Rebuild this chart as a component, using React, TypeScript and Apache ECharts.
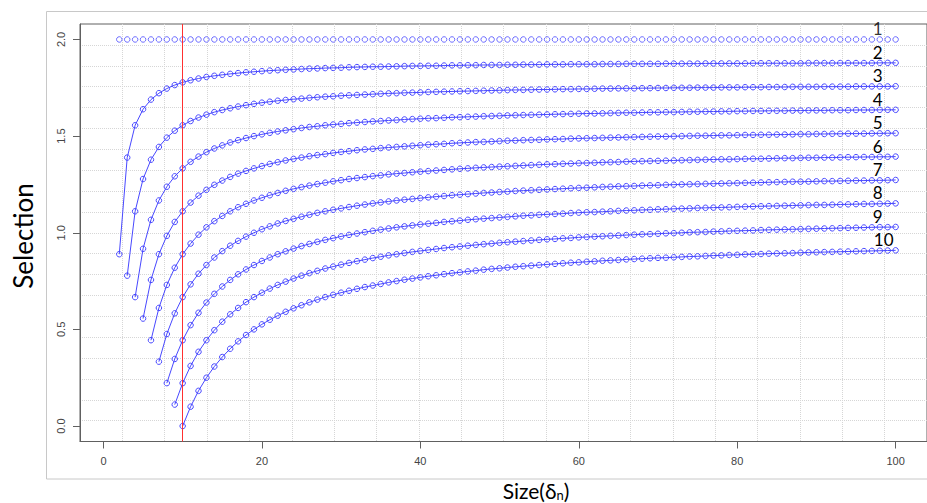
import React, { useEffect, useRef } from "react";
import * as echarts from "echarts";

const sizes = [
  1, 2, 3, 4, 5, 6, 7, 8, 9, 10, 11, 12, 13, 14, 15, 16, 17, 18, 19, 20,
  21, 22, 23, 24, 25, 26, 27, 28, 29, 30, 31, 32, 33, 34, 35, 36, 37, 38, 39, 40,
  41, 42, 43, 44, 45, 46, 47, 48, 49, 50, 51, 52, 53, 54, 55, 56, 57, 58, 59, 60,
  61, 62, 63, 64, 65, 66, 67, 68, 69, 70, 71, 72, 73, 74, 75, 76, 77, 78, 79, 80,
  81, 82, 83, 84, 85, 86, 87, 88, 89, 90, 91, 92, 93, 94, 95, 96, 97, 98, 99, 100,
];

// series values, each starting at the size given in seriesStart
const sel1 = [
  2, 2, 2, 2, 2, 2, 2, 2, 2, 2, 2, 2, 2, 2, 2, 2, 2, 2, 2, 2,
  2, 2, 2, 2, 2, 2, 2, 2, 2, 2, 2, 2, 2, 2, 2, 2, 2, 2, 2, 2,
  2, 2, 2, 2, 2, 2, 2, 2, 2, 2, 2, 2, 2, 2, 2, 2, 2, 2, 2, 2,
  2, 2, 2, 2, 2, 2, 2, 2, 2, 2, 2, 2, 2, 2, 2, 2, 2, 2, 2, 2,
  2, 2, 2, 2, 2, 2, 2, 2, 2, 2, 2, 2, 2, 2, 2, 2, 2, 2, 2,
];
const sel2 = [
  0.889, 1.389, 1.556, 1.639, 1.689, 1.722, 1.746, 1.764, 1.778, 1.789,
  1.798, 1.806, 1.812, 1.817, 1.822, 1.826, 1.830, 1.833, 1.836, 1.839,
  1.841, 1.843, 1.845, 1.847, 1.849, 1.850, 1.852, 1.853, 1.854, 1.856,
  1.857, 1.858, 1.859, 1.859, 1.860, 1.861, 1.862, 1.863, 1.863, 1.864,
  1.864, 1.865, 1.866, 1.866, 1.867, 1.867, 1.868, 1.868, 1.868, 1.869,
  1.869, 1.870, 1.870, 1.870, 1.871, 1.871, 1.871, 1.872, 1.872, 1.872,
  1.872, 1.873, 1.873, 1.873, 1.874, 1.874, 1.874, 1.874, 1.874, 1.875,
  1.875, 1.875, 1.875, 1.875, 1.876, 1.876, 1.876, 1.876, 1.876, 1.876,
  1.877, 1.877, 1.877, 1.877, 1.877, 1.877, 1.877, 1.878, 1.878, 1.878,
  1.878, 1.878, 1.878, 1.878, 1.878, 1.878, 1.879, 1.879, 1.879,
];
const sel3 = [
  0.778, 1.111, 1.278, 1.378, 1.444, 1.492, 1.528, 1.556, 1.578, 1.596,
  1.611, 1.624, 1.635, 1.644, 1.653, 1.660, 1.667, 1.673, 1.678, 1.683,
  1.687, 1.691, 1.694, 1.698, 1.701, 1.704, 1.706, 1.709, 1.711, 1.713,
  1.715, 1.717, 1.719, 1.721, 1.722, 1.724, 1.725, 1.726, 1.728, 1.729,
  1.730, 1.731, 1.732, 1.733, 1.734, 1.735, 1.736, 1.737, 1.738, 1.739,
  1.739, 1.740, 1.741, 1.741, 1.742, 1.743, 1.743, 1.744, 1.744, 1.745,
  1.746, 1.746, 1.747, 1.747, 1.747, 1.748, 1.748, 1.749, 1.749, 1.750,
  1.750, 1.750, 1.751, 1.751, 1.751, 1.752, 1.752, 1.752, 1.753, 1.753,
  1.753, 1.754, 1.754, 1.754, 1.755, 1.755, 1.755, 1.755, 1.756, 1.756,
  1.756, 1.756, 1.757, 1.757, 1.757, 1.757, 1.757, 1.758,
];
const sel4 = [
  0.667, 0.917, 1.067, 1.167, 1.238, 1.292, 1.333, 1.367, 1.394, 1.417,
  1.436, 1.452, 1.467, 1.479, 1.490, 1.500, 1.509, 1.517, 1.524, 1.530,
  1.536, 1.542, 1.547, 1.551, 1.556, 1.560, 1.563, 1.567, 1.570, 1.573,
  1.576, 1.578, 1.581, 1.583, 1.586, 1.588, 1.590, 1.592, 1.593, 1.595,
  1.597, 1.598, 1.600, 1.601, 1.603, 1.604, 1.605, 1.607, 1.608, 1.609,
  1.610, 1.611, 1.612, 1.613, 1.614, 1.615, 1.616, 1.617, 1.617, 1.618,
  1.619, 1.620, 1.621, 1.621, 1.622, 1.623, 1.623, 1.624, 1.624, 1.625,
  1.626, 1.626, 1.627, 1.627, 1.628, 1.628, 1.629, 1.629, 1.630, 1.630,
  1.631, 1.631, 1.631, 1.632, 1.632, 1.633, 1.633, 1.633, 1.634, 1.634,
  1.634, 1.635, 1.635, 1.635, 1.636, 1.636, 1.636,
];
const sel5 = [
  0.556, 0.756, 0.889, 0.984, 1.056, 1.111, 1.156, 1.192, 1.222, 1.248,
  1.270, 1.289, 1.306, 1.320, 1.333, 1.345, 1.356, 1.365, 1.374, 1.382,
  1.389, 1.396, 1.402, 1.407, 1.413, 1.418, 1.422, 1.427, 1.431, 1.434,
  1.438, 1.441, 1.444, 1.447, 1.450, 1.453, 1.456, 1.458, 1.460, 1.463,
  1.465, 1.467, 1.469, 1.470, 1.472, 1.474, 1.476, 1.477, 1.479, 1.480,
  1.481, 1.483, 1.484, 1.485, 1.487, 1.488, 1.489, 1.490, 1.491, 1.492,
  1.493, 1.494, 1.495, 1.496, 1.497, 1.498, 1.498, 1.499, 1.500, 1.501,
  1.502, 1.502, 1.503, 1.504, 1.504, 1.505, 1.506, 1.506, 1.507, 1.507,
  1.508, 1.508, 1.509, 1.510, 1.510, 1.511, 1.511, 1.512, 1.512, 1.513,
  1.513, 1.513, 1.514, 1.514, 1.515, 1.515,
];
const sel6 = [
  0.444, 0.611, 0.730, 0.819, 0.889, 0.944, 0.990, 1.028, 1.060, 1.087,
  1.111, 1.132, 1.150, 1.167, 1.181, 1.194, 1.206, 1.217, 1.227, 1.236,
  1.244, 1.252, 1.259, 1.266, 1.272, 1.278, 1.283, 1.288, 1.293, 1.297,
  1.302, 1.306, 1.309, 1.313, 1.316, 1.319, 1.322, 1.325, 1.328, 1.331,
  1.333, 1.336, 1.338, 1.340, 1.342, 1.344, 1.346, 1.348, 1.350, 1.352,
  1.354, 1.355, 1.357, 1.358, 1.360, 1.361, 1.362, 1.364, 1.365, 1.366,
  1.368, 1.369, 1.370, 1.371, 1.372, 1.373, 1.374, 1.375, 1.376, 1.377,
  1.378, 1.379, 1.380, 1.380, 1.381, 1.382, 1.383, 1.383, 1.384, 1.385,
  1.386, 1.386, 1.387, 1.388, 1.388, 1.389, 1.389, 1.390, 1.391, 1.391,
  1.392, 1.392, 1.393, 1.393, 1.394,
];
const sel7 = [
  0.333, 0.476, 0.583, 0.667, 0.733, 0.788, 0.833, 0.872, 0.905, 0.933,
  0.958, 0.980, 1.000, 1.018, 1.033, 1.048, 1.061, 1.072, 1.083, 1.093,
  1.103, 1.111, 1.119, 1.126, 1.133, 1.140, 1.146, 1.152, 1.157, 1.162,
  1.167, 1.171, 1.175, 1.179, 1.183, 1.187, 1.190, 1.194, 1.197, 1.200,
  1.203, 1.206, 1.208, 1.211, 1.213, 1.216, 1.218, 1.220, 1.222, 1.224,
  1.226, 1.228, 1.230, 1.232, 1.233, 1.235, 1.237, 1.238, 1.240, 1.241,
  1.242, 1.244, 1.245, 1.246, 1.248, 1.249, 1.250, 1.251, 1.252, 1.253,
  1.254, 1.255, 1.256, 1.257, 1.258, 1.259, 1.260, 1.261, 1.262, 1.263,
  1.264, 1.264, 1.265, 1.266, 1.267, 1.267, 1.268, 1.269, 1.270, 1.270,
  1.271, 1.271, 1.272, 1.273,
];
const sel8 = [
  0.222, 0.347, 0.444, 0.522, 0.586, 0.639, 0.684, 0.722, 0.756, 0.785,
  0.810, 0.833, 0.854, 0.872, 0.889, 0.904, 0.918, 0.931, 0.942, 0.953,
  0.963, 0.972, 0.981, 0.989, 0.996, 1.003, 1.010, 1.016, 1.022, 1.028,
  1.033, 1.038, 1.043, 1.047, 1.051, 1.056, 1.059, 1.063, 1.067, 1.070,
  1.073, 1.076, 1.079, 1.082, 1.085, 1.088, 1.090, 1.093, 1.095, 1.097,
  1.099, 1.102, 1.104, 1.106, 1.107, 1.109, 1.111, 1.113, 1.115, 1.116,
  1.118, 1.119, 1.121, 1.122, 1.124, 1.125, 1.126, 1.128, 1.129, 1.130,
  1.131, 1.132, 1.134, 1.135, 1.136, 1.137, 1.138, 1.139, 1.140, 1.141,
  1.142, 1.143, 1.144, 1.144, 1.145, 1.146, 1.147, 1.148, 1.149, 1.149,
  1.150, 1.151, 1.152,
];
const sel9 = [
  0.111, 0.222, 0.311, 0.384, 0.444, 0.496, 0.540, 0.578, 0.611, 0.641,
  0.667, 0.690, 0.711, 0.730, 0.747, 0.763, 0.778, 0.791, 0.803, 0.815,
  0.825, 0.835, 0.844, 0.853, 0.861, 0.869, 0.876, 0.883, 0.889, 0.895,
  0.901, 0.906, 0.911, 0.916, 0.921, 0.925, 0.929, 0.933, 0.937, 0.941,
  0.944, 0.948, 0.951, 0.954, 0.957, 0.960, 0.963, 0.966, 0.968, 0.971,
  0.973, 0.976, 0.978, 0.980, 0.982, 0.984, 0.986, 0.988, 0.990, 0.992,
  0.993, 0.995, 0.997, 0.998, 1.000, 1.002, 1.003, 1.004, 1.006, 1.007,
  1.009, 1.010, 1.011, 1.012, 1.014, 1.015, 1.016, 1.017, 1.018, 1.019,
  1.020, 1.021, 1.022, 1.023, 1.024, 1.025, 1.026, 1.027, 1.028, 1.029,
  1.029, 1.030,
];
const sel10 = [
  0.000, 0.100, 0.182, 0.250, 0.308, 0.357, 0.400, 0.438, 0.471, 0.500,
  0.526, 0.550, 0.571, 0.591, 0.609, 0.625, 0.640, 0.654, 0.667, 0.679,
  0.690, 0.700, 0.710, 0.719, 0.727, 0.735, 0.743, 0.750, 0.757, 0.763,
  0.769, 0.775, 0.780, 0.786, 0.791, 0.795, 0.800, 0.804, 0.809, 0.813,
  0.816, 0.820, 0.824, 0.827, 0.830, 0.833, 0.836, 0.839, 0.842, 0.845,
  0.847, 0.850, 0.852, 0.855, 0.857, 0.859, 0.862, 0.864, 0.866, 0.868,
  0.870, 0.871, 0.873, 0.875, 0.877, 0.878, 0.880, 0.882, 0.883, 0.885,
  0.886, 0.888, 0.889, 0.890, 0.892, 0.893, 0.894, 0.895, 0.897, 0.898,
  0.899, 0.900, 0.901, 0.902, 0.903, 0.904, 0.905, 0.906, 0.907, 0.908,
  0.909,
];

const seriesNames = ["1", "2", "3", "4", "5", "6", "7", "8", "9", "10"];
const seriesStart = [2, 2, 3, 4, 5, 6, 7, 8, 9, 10];
const xTicks = [0, 20, 40, 60, 80, 100];
const yTicks = [0, 0.5, 1, 1.5, 2];
const markedSize = 10;
const xRange = [-2.96, 103.96];
const yRange = [-0.08, 2.08];

const allSel = [sel1, sel2, sel3, sel4, sel5, sel6, sel7, sel8, sel9, sel10];

export default function App() {
  const ref = useRef<HTMLDivElement>(null);

  useEffect(() => {
    if (!ref.current) return;
    const chart = echarts.init(ref.current, null, { renderer: "svg" });
    const blue = "#4848ff";

    const series: any[] = allSel.map((vals, idx) => {
      const start = seriesStart[idx];
      const data = vals.map((v, i) => {
        const item: any = { value: [sizes[start - 1 + i], v] };
        if (i === vals.length - 1) {
          item.label = {
            show: true,
            formatter: seriesNames[idx],
            position: "inside",
            offset: [idx === 9 ? -12 : -18, -10.5],
            color: "#000",
            fontSize: 17,
            fontFamily: "Lato",
            textBorderWidth: 0,
          };
        }
        return item;
      });
      const s: any = {
        name: seriesNames[idx],
        type: idx === 0 ? "scatter" : "line",
        data,
        symbol: "circle",
        symbolSize: 5.5,
        showAllSymbol: true,
        itemStyle: { color: "rgba(0,0,0,0)", borderColor: blue, borderWidth: 1 },
        lineStyle: { color: blue, width: 1 },
        silent: true,
        xAxisIndex: 0,
        yAxisIndex: 0,
        z: 3,
      };
      if (idx === allSel.length - 1) {
        s.markLine = {
          symbol: "none",
          silent: true,
          label: { show: false },
          lineStyle: { color: "#ff3030", width: 1, type: "solid" },
          data: [{ xAxis: markedSize }],
        };
      }
      return s;
    });

    const gridLine = {
      show: true,
      showMinLine: false,
      showMaxLine: false,
      lineStyle: { color: "#d6d6d6", type: "dotted", width: 1 },
    };

    chart.setOption({
      animation: false,
      backgroundColor: "#ffffff",
      grid: {
        left: 80,
        top: 24,
        width: 849,
        height: 417.5,
        show: true,
        borderColor: "#606060",
        borderWidth: 1,
        backgroundColor: "transparent",
      },
      xAxis: [
        {
          type: "value",
          min: xRange[0],
          max: xRange[1],
          axisLine: { show: true, onZero: false, lineStyle: { color: "#606060" } },
          axisTick: { show: true, length: 7, customValues: xTicks, lineStyle: { color: "#606060" } },
          axisLabel: {
            customValues: xTicks,
            color: "#444",
            fontSize: 11,
            fontFamily: "Liberation Sans",
            margin: 14,
          },
          splitLine: { show: false },
        },
        {
          type: "value",
          min: 0,
          max: 20,
          interval: 1,
          position: "top",
          axisLine: { show: false },
          axisTick: { show: false },
          axisLabel: { show: false },
          splitLine: gridLine,
        },
      ],
      yAxis: [
        {
          type: "value",
          min: yRange[0],
          max: yRange[1],
          axisLine: { show: true, onZero: false, lineStyle: { color: "#606060" } },
          axisTick: { show: true, length: 7, customValues: yTicks, lineStyle: { color: "#606060" } },
          axisLabel: {
            customValues: yTicks,
            formatter: (v: number) => v.toFixed(1),
            rotate: 90,
            color: "#444",
            fontSize: 11,
            fontFamily: "Liberation Sans",
            margin: 14,
          },
          splitLine: { show: false },
        },
        {
          type: "value",
          min: 0,
          max: 20,
          interval: 1,
          position: "right",
          axisLine: { show: false },
          axisTick: { show: false },
          axisLabel: { show: false },
          splitLine: gridLine,
        },
      ],
      graphic: [
        {
          type: "rect",
          silent: true,
          z: -10,
          shape: { x: 46.5, y: 11.5, width: 900, height: 467.5 },
          style: { fill: "none", stroke: "#c8c8c8", lineWidth: 1 },
        },
        {
          type: "text",
          x: 23,
          y: 236,
          rotation: Math.PI / 2,
          style: {
            text: "Selection",
            fontSize: 26,
            fontFamily: "Lato",
            fill: "#000",
            align: "center",
            verticalAlign: "middle",
          },
        },
        {
          type: "text",
          x: 536,
          y: 490,
          style: {
            text: "{a|Size(δ}{b|n}{a|)}",
            align: "center",
            verticalAlign: "middle",
            rich: {
              a: { fontSize: 21, fontFamily: "Lato", fill: "#000" },
              b: { fontSize: 13, fontFamily: "Lato", fill: "#000", padding: [10, 0, 0, 0] },
            },
          },
        },
      ],
      series,
    });

    return () => chart.dispose();
  }, []);

  return (
    <div
      ref={ref}
      style={{ position: "fixed", left: 0, top: 0, width: 927, height: 503, background: "#fff" }}
    />
  );
}
